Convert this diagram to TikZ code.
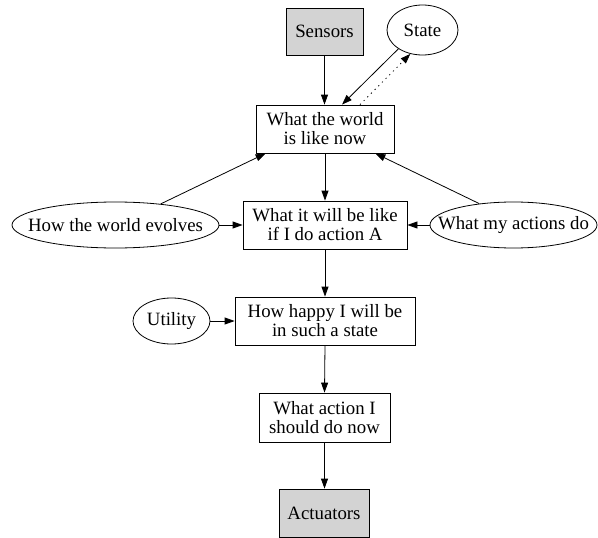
\documentclass[tikz,border=0pt]{standalone}
\usepackage{fontspec}
\setmainfont{Liberation Serif}
\usetikzlibrary{arrows.meta,shapes.geometric}
\definecolor{boxgray}{HTML}{D3D3D3}
% zero-width label so an ellipse keeps its given size
\newcommand{\ovaltext}[1]{\makebox[0pt]{#1}}
\begin{document}
\begin{tikzpicture}[x=1pt,y=-1pt,
  font=\fontsize{18.8}{19}\selectfont,
  every node/.style={draw, line width=0.8pt, inner sep=0pt, align=center},
  stepbox/.style={rectangle},
  iobox/.style={rectangle, fill=boxgray},
  oval/.style={ellipse},
  edge/.style={-{Triangle[length=10pt,width=7pt]}, line width=0.8pt},
  feedback/.style={edge, dash pattern=on 1.2pt off 4pt}]
\useasboundingbox (0,0) rectangle (598,538);

% agent components
\node[iobox, minimum width=77pt, minimum height=47pt] (sensors) at (324.5,31.5) {Sensors};
\node[oval, minimum width=71pt, minimum height=50pt] (state) at (422.5,30) {\ovaltext{State}};
\node[stepbox, minimum width=138pt, minimum height=48pt] (world) at (325,129) {What the world\\is like now};
\node[stepbox, minimum width=164pt, minimum height=48pt] (predict) at (325,225) {What it will be like\\if I do action A};
\node[oval, minimum width=207pt, minimum height=46pt] (evolves) at (115.5,225) {\ovaltext{How the world evolves}};
\node[oval, minimum width=167pt, minimum height=46pt] (actions) at (513.5,225) {\ovaltext{What my actions do}};
\node[stepbox, minimum width=180pt, minimum height=48pt] (happy) at (325,321) {How happy I will be\\in such a state};
\node[oval, minimum width=77pt, minimum height=46pt] (utility) at (171.5,321) {\ovaltext{Utility}};
\node[stepbox, minimum width=131pt, minimum height=49pt] (decide) at (324.5,417.5) {What action I\\should do now};
\node[iobox, minimum width=90pt, minimum height=48pt] (actuators) at (324,513) {Actuators};

% connectors
\draw[edge] (sensors.south) -- (sensors.south |- world.north);
\draw[edge] (state.218) -- ([xshift=17pt]world.north);
\draw[feedback] ([xshift=35pt]world.north) -- (state.243);
\draw[edge] (evolves.25) -- ([xshift=10pt]world.south west);
\draw[edge] (actions.148) -- ([xshift=-19pt]world.south east);
\draw[edge] (world.south) -- (predict.north);
\draw[edge] (evolves.east) -- (predict.west);
\draw[edge] (actions.west) -- (predict.east);
\draw[edge] (predict.south) -- (happy.north);
\draw[edge] (utility.east) -- (happy.west);
\draw[edge] (happy.south) -- (decide.north);
\draw[edge] (decide.south) -- (decide.south |- actuators.north);
\end{tikzpicture}
\end{document}
